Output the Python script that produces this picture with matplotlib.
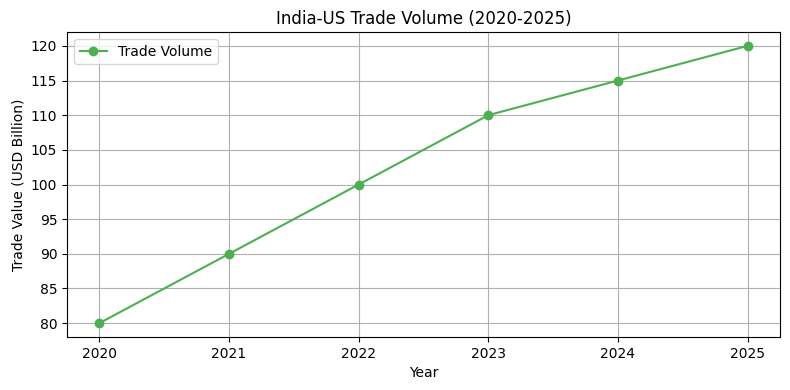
import matplotlib.pyplot as plt

# --- data ---
years = [2020, 2021, 2022, 2023, 2024, 2025]
trade_volume = [80, 90, 100, 110, 115, 120]

fig, ax = plt.subplots(figsize=(7.9, 3.9), dpi=100)
ax.plot(years, trade_volume, marker='o', color='#4CAF50', label='Trade Volume')
ax.set_title('India-US Trade Volume (2020-2025)')
ax.set_xlabel('Year')
ax.set_ylabel('Trade Value (USD Billion)')
ax.grid(True)
ax.legend(loc='upper left')

fig.subplots_adjust(left=67 / 790, right=780 / 790, top=1 - 32 / 390, bottom=1 - 337 / 390)
plt.savefig('out.png')
